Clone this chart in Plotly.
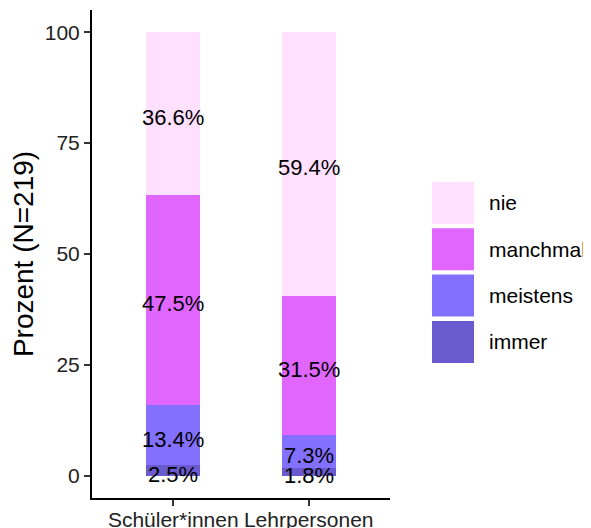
'''
Stacked percentage bars: Schüler*innen vs. Lehrpersonen
'''

import plotly.graph_objects as go

groups = ['Schüler*innen', 'Lehrpersonen']
levels = ['immer', 'meistens', 'manchmal', 'nie']   # bottom to top
values = {
    'immer': [2.5, 1.8],
    'meistens': [13.4, 7.3],
    'manchmal': [47.5, 31.5],
    'nie': [36.6, 59.4],
}
level_colors = {
    'immer': '#6A5ACD',
    'meistens': '#8470FF',
    'manchmal': '#E066FF',
    'nie': '#FFE1FF',
}
y_ticks = [0, 25, 50, 75, 100]

FONT = 'Liberation Sans, Arial, sans-serif'
OFF = 8                            # page body margin
W, H = 591 - OFF, 528 - OFF
L, R, T, B = 92 - OFF, 201, 10 - OFF, 30   # margins in px
PW, PH = W - L - R, H - T - B


def px_x(x):
    return (x - OFF - L) / PW


def px_y(y):
    return (H - B - (y - OFF)) / PH


fig = go.Figure()

bottoms = [0.0] * len(groups)
for level in levels:
    vals = values[level]
    fig.add_bar(x=groups, y=vals, name=level, width=0.4,
                marker_color=level_colors[level], marker_line_width=0,
                showlegend=False, hoverinfo='skip')
    for g, b, v in zip(groups, bottoms, vals):
        fig.add_annotation(x=g, y=b + v / 2, text='{:.1f}%'.format(v),
                           showarrow=False, yshift=-4,
                           font=dict(family=FONT, size=22, color='black'))
    bottoms = [b + v for b, v in zip(bottoms, vals)]

# hand-drawn legend with ggplot sized keys
key_top, key_step, key_h = 182, 46.3, 42
for i, level in enumerate(reversed(levels)):
    y0 = key_top + i * key_step
    fig.add_shape(type='rect', xref='paper', yref='paper',
                  x0=px_x(432), x1=px_x(474),
                  y0=px_y(y0 + key_h), y1=px_y(y0),
                  fillcolor=level_colors[level], line_width=0)
    fig.add_annotation(xref='paper', yref='paper',
                       x=px_x(487), y=px_y(y0 + key_h / 2),
                       text=level, showarrow=False,
                       xanchor='left', yanchor='middle',
                       font=dict(family=FONT, size=21, color='black'))

fig.update_layout(
    width=W, height=H,
    margin=dict(l=L, r=R, t=T, b=B),
    plot_bgcolor='white', paper_bgcolor='white',
    barmode='stack',
    font=dict(family=FONT, color='black'),
)
fig.update_xaxes(range=[-0.6, 1.6], showgrid=False, zeroline=False,
                 showline=True, linecolor='black', linewidth=2,
                 ticks='outside', ticklen=6, tickwidth=1.5, tickcolor='#333333',
                 tickfont=dict(family=FONT, size=21, color='#222222'),
                 ticklabelstandoff=-4,
                 automargin=False)
fig.update_yaxes(range=[-5, 105], tickvals=y_ticks, showgrid=False, zeroline=False,
                 showline=True, linecolor='black', linewidth=2,
                 ticks='outside', ticklen=6, tickwidth=1.5, tickcolor='#333333',
                 tickfont=dict(family=FONT, size=21, color='#222222'),
                 title=dict(text='Prozent (N=219)', standoff=11,
                            font=dict(family=FONT, size=28, color='black')),
                 automargin=False)

fig.write_html('out.html')
